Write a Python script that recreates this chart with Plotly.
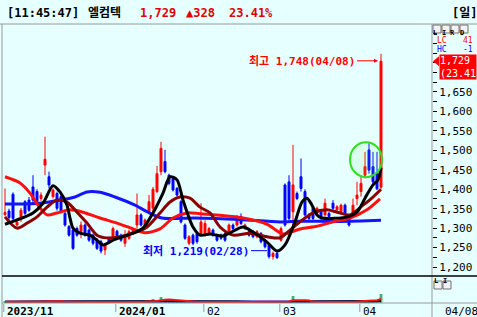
import numpy as np
import pandas as pd
import plotly.graph_objects as go

# ---------------- data ----------------
open_ = [1335, 1344, 1387, 1308, 1329, 1368, 1372, 1406, 1394, 1376,
         1462, 1432, 1381, 1389, 1381, 1338, 1304, 1295, 1299, 1291,
         1308, 1295, 1282, 1269, 1265, 1244, 1274, 1278, 1292, 1282,
         1261, 1274, 1285, 1308, 1334, 1308, 1342, 1351, 1394, 1445,
         1471, 1436, 1428, 1402, 1368, 1308, 1261, 1282, 1286, 1286,
         1282, 1286, 1295, 1282, 1282, 1286, 1291, 1308, 1308, 1330,
         1299, 1291, 1291, 1278, 1286, 1269, 1256, 1227, 1235, 1269,
         1411, 1419, 1342, 1389, 1432, 1394, 1334, 1351, 1338, 1342,
         1334, 1338, 1364, 1347, 1342, 1359, 1325, 1338, 1376, 1394,
         1436, 1501, 1458, 1440, 1405]
high = [1402, 1350, 1392, 1322, 1352, 1372, 1380, 1436, 1400, 1392,
        1535, 1445, 1402, 1394, 1385, 1342, 1308, 1299, 1304, 1317,
        1312, 1299, 1286, 1274, 1270, 1261, 1278, 1304, 1296, 1286,
        1295, 1296, 1300, 1389, 1338, 1325, 1385, 1406, 1460, 1522,
        1501, 1440, 1432, 1406, 1372, 1312, 1282, 1286, 1290, 1364,
        1320, 1303, 1299, 1286, 1286, 1290, 1312, 1312, 1334, 1338,
        1312, 1295, 1295, 1295, 1290, 1273, 1260, 1240, 1240, 1304,
        1415, 1436, 1514, 1394, 1479, 1400, 1338, 1355, 1355, 1346,
        1376, 1342, 1372, 1359, 1363, 1363, 1330, 1376, 1419, 1436,
        1496, 1518, 1496, 1496, 1748]
low = [1330, 1320, 1320, 1304, 1316, 1334, 1342, 1362, 1362, 1370,
       1436, 1402, 1376, 1345, 1338, 1304, 1278, 1244, 1278, 1274,
       1278, 1265, 1256, 1244, 1235, 1231, 1261, 1274, 1270, 1265,
       1252, 1270, 1282, 1299, 1304, 1304, 1338, 1334, 1390, 1436,
       1441, 1410, 1394, 1381, 1312, 1270, 1256, 1256, 1260, 1282,
       1278, 1282, 1278, 1265, 1270, 1265, 1287, 1295, 1304, 1308,
       1295, 1278, 1274, 1274, 1261, 1248, 1222, 1219, 1221, 1265,
       1304, 1320, 1308, 1372, 1394, 1330, 1321, 1321, 1334, 1321,
       1330, 1326, 1347, 1343, 1338, 1334, 1304, 1334, 1359, 1381,
       1428, 1440, 1411, 1398, 1401]
close = [1340, 1327, 1325, 1316, 1346, 1338, 1346, 1372, 1368, 1385,
         1477, 1411, 1398, 1351, 1342, 1308, 1282, 1248, 1282, 1308,
         1282, 1269, 1261, 1248, 1241, 1256, 1265, 1299, 1275, 1269,
         1282, 1291, 1295, 1334, 1308, 1321, 1368, 1400, 1440, 1505,
         1445, 1415, 1398, 1385, 1316, 1274, 1278, 1261, 1265, 1316,
         1312, 1299, 1282, 1269, 1274, 1269, 1308, 1299, 1321, 1312,
         1308, 1282, 1278, 1291, 1265, 1252, 1227, 1235, 1224, 1299,
         1308, 1325, 1411, 1376, 1402, 1334, 1325, 1325, 1351, 1325,
         1364, 1330, 1351, 1355, 1359, 1338, 1308, 1359, 1385, 1415,
         1458, 1449, 1419, 1401, 1729]
volume = [120, 110, 130, 100, 110, 110, 100, 140, 120, 200,
          250, 200, 180, 120, 110, 110, 100, 120, 100, 110,
          100, 100, 90, 100, 100, 90, 90, 110, 100, 90,
          100, 100, 90, 150, 110, 100, 150, 400, 250, 600,
          250, 200, 200, 180, 200, 120, 100, 100, 90, 150,
          120, 100, 90, 90, 90, 90, 110, 90, 100, 100,
          90, 90, 90, 90, 100, 100, 130, 110, 100, 150,
          200, 200, 700, 200, 150, 120, 100, 100, 100, 100,
          110, 90, 100, 90, 100, 100, 110, 120, 150, 300,
          300, 280, 300, 250, 900]

holidays = ["2023-12-25", "2023-12-29", "2024-01-01",
            "2024-02-09", "2024-02-12", "2024-03-01"]
first_day, last_day = "2023-11-20", "2024-04-08"

# moving-average lines (position in trading days, price)
ma_black_x = [0, 3, 7, 9.5, 12, 13.75, 15.5, 16.25, 17, 18.75, 21.25, 23, 24.5, 27,
              29.5, 32, 34.5, 37, 39.5, 41.25, 43, 44.5, 47, 48.75, 51.25, 54.5,
              59.5, 62, 65.5, 68, 70, 72.5, 74.25, 75.5, 76.75, 78, 79.25, 85.75,
              88, 90, 92, 93.25, 94]
ma_black_y = [1310, 1321, 1339, 1364, 1409, 1393, 1359, 1326, 1300, 1287, 1282, 1269,
              1257, 1269, 1278, 1287, 1300, 1339, 1390, 1432, 1424, 1372, 1303, 1282,
              1285, 1280, 1303, 1290, 1264, 1241, 1257, 1316, 1367, 1377, 1359, 1334,
              1326, 1329, 1341, 1377, 1411, 1424, 1455]
ma_brown_x = [0, 3, 5.5, 8, 10.5, 13, 15.5, 18, 20.5, 23, 25.5, 28.75, 32, 35.5, 38.75,
              41.25, 43.75, 46.25, 48.75, 51.25, 53.75, 57, 61.25, 65.5, 68.75, 71.25,
              73.75, 77, 80.5, 83, 86.25, 89.5, 92, 94]
ma_brown_y = [1329, 1300, 1313, 1329, 1354, 1372, 1367, 1341, 1313, 1282, 1275, 1278,
              1287, 1303, 1339, 1367, 1380, 1377, 1354, 1339, 1303, 1282, 1287, 1278,
              1275, 1295, 1316, 1339, 1347, 1341, 1334, 1359, 1380, 1400]
ma_red_x = [0, 3.75, 6.25, 8.75, 10.5, 13, 16.25, 19.5, 23.75, 28, 32, 35, 38.75, 42,
            45.5, 48.75, 53.75, 59.5, 65.5, 69.5, 73.75, 78, 82, 86.25, 90.5, 93.75]
ma_red_y = [1432, 1416, 1390, 1352, 1334, 1339, 1347, 1341, 1326, 1313, 1298, 1288,
            1298, 1326, 1339, 1337, 1333, 1326, 1310, 1285, 1298, 1305, 1316, 1326,
            1347, 1375]
ma_blue_x = [0, 8.75, 13.75, 17.5, 20.5, 23.75, 27.5, 32.5, 35.75, 39.25, 47.5, 58.75,
             68.75, 73.75, 83.75, 94]
ma_blue_y = [1362, 1364, 1372, 1380, 1393, 1392, 1380, 1359, 1341, 1326, 1326, 1322,
             1316, 1318, 1317, 1320]

price_ticks = [1200, 1250, 1300, 1350, 1400, 1450, 1500, 1550, 1600, 1650]

# ---------------- derived ----------------
dates = [d for d in pd.bdate_range(first_day, last_day)
         if d.strftime("%Y-%m-%d") not in holidays]
n = len(close)
idx = np.arange(n)

BG = "#E6FFFF"
GRAY = "#9A9A9A"
MONO = "DejaVu Sans Mono, Noto Sans CJK KR"
Y_RANGE = [1177, 1822]
DOM_MAIN = [0.0971, 1.0]
DOM_VOL = [0.0, 0.0971]


def px_x(p):  # pixel -> paper x
    return (p - 3) / 429.0


def px_y(p):  # pixel -> paper y
    return (303 - p) / 278.0


def price_paper(v):
    return DOM_MAIN[0] + (v - Y_RANGE[0]) / (Y_RANGE[1] - Y_RANGE[0]) * (DOM_MAIN[1] - DOM_MAIN[0])


fig = go.Figure()

fig.add_trace(go.Candlestick(
    x=idx, open=open_, high=high, low=low, close=close,
    increasing=dict(line=dict(color="#FF0000", width=1), fillcolor="#FF0000"),
    decreasing=dict(line=dict(color="#0000FF", width=1), fillcolor="#0000FF"),
    whiskerwidth=0, yaxis="y", hoverinfo="skip"))

for xs, ys, col in [(ma_blue_x, ma_blue_y, "#1414FF"),
                    (ma_red_x, ma_red_y, "#FF1010"),
                    (ma_brown_x, ma_brown_y, "#8B0000"),
                    (ma_black_x, ma_black_y, "#000000")]:
    fig.add_trace(go.Scatter(x=xs, y=ys, mode="lines",
                             line=dict(color=col, width=3, shape="spline", smoothing=0.8),
                             yaxis="y", hoverinfo="skip"))

# volume panel
fig.add_trace(go.Bar(x=idx, y=volume, marker_color="#3CB46E", marker_line_width=0,
                     width=0.7, yaxis="y2", hoverinfo="skip"))
vs = pd.Series(volume, dtype=float)
for win, col in [(60, "#1414FF"), (20, "#000000"), (5, "#FF1010")]:
    fig.add_trace(go.Scatter(x=idx, y=vs.rolling(win, min_periods=1).mean(), mode="lines",
                             line=dict(color=col, width=2), yaxis="y2", hoverinfo="skip"))

shapes = []
# frame lines
shapes.append(dict(type="line", xref="paper", yref="paper", x0=px_x(0), x1=px_x(477),
                   y0=px_y(24), y1=px_y(24), line=dict(color=GRAY, width=1)))
shapes.append(dict(type="line", xref="paper", yref="paper", x0=px_x(2), x1=px_x(2),
                   y0=px_y(24), y1=px_y(317), line=dict(color=GRAY, width=1)))
shapes.append(dict(type="line", xref="paper", yref="paper", x0=1.0, x1=1.0,
                   y0=px_y(24), y1=px_y(317), line=dict(color=GRAY, width=1)))
shapes.append(dict(type="line", xref="paper", yref="paper", x0=px_x(2), x1=px_x(477),
                   y0=DOM_VOL[1], y1=DOM_VOL[1], line=dict(color="#000000", width=1.5)))
shapes.append(dict(type="line", xref="paper", yref="paper", x0=px_x(2), x1=px_x(477),
                   y0=0, y1=0, line=dict(color=GRAY, width=1)))

# highlight circle around the last swing
shapes.append(dict(type="circle", xref="x", yref="y", x0=86.25, x1=94.25, y0=1431, y1=1521,
                   line=dict(color="#33DD22", width=2), fillcolor="rgba(120,255,120,0.12)"))

# price flag pointer
last_c = close[-1]
yp = price_paper(last_c)
shapes.append(dict(type="path", xref="paper", yref="paper",
                   path=f"M {px_x(433)},{yp} L {px_x(439)},{yp + 0.018} L {px_x(439)},{yp - 0.018} Z",
                   fillcolor="#FF0000", line=dict(width=0)))

annotations = []

# title bar
prev_c = close[-2]
chg = last_c - prev_c
pct = chg / prev_c * 100
ty = px_y(13)
for X, txt, col in [(5, "[11:45:47]", "#000000"), (86, "엘컴텍", "#000000"),
                    (138, f"{last_c:,}", "#E00000"), (184, f"▲{chg:,}", "#E00000"),
                    (227, f"{pct:.2f}%", "#E00000"), (450, "[일]", "#000000")]:
    annotations.append(dict(x=px_x(X), y=ty, xref="paper", yref="paper", xanchor="left",
                            yanchor="middle", text=f"<b>{txt}</b>", showarrow=False,
                            font=dict(family=MONO, size=12, color=col)))

# high / low labels
hi_i = int(np.argmax(high))
lo_i = int(np.argmin(low))
annotations.append(dict(x=hi_i, y=high[hi_i], xref="x", yref="y",
                        text=f"<b>최고 {high[hi_i]:,}({dates[hi_i].strftime('%m/%d')})</b>",
                        showarrow=True, arrowhead=2, arrowsize=0.8, arrowwidth=1,
                        arrowcolor="#FF0000", ax=-24, ay=0, xanchor="right", yshift=-7,
                        standoff=3, font=dict(family=MONO, size=11, color="#FF0000")))
annotations.append(dict(x=lo_i, y=low[lo_i], xref="x", yref="y",
                        text=f"<b>최저 {low[lo_i]:,}({dates[lo_i].strftime('%m/%d')})</b>",
                        showarrow=True, arrowhead=0, arrowwidth=1,
                        arrowcolor="#0000FF", ax=-22, ay=0, xanchor="right", yshift=9,
                        standoff=6, font=dict(family=MONO, size=11, color="#0000FF")))

# right-side indicator buttons (boxes as shapes, letters as text)
for X0, Y0, ch in [(433, 25, "L"), (442, 25, "I"), (451, 25, "R"), (460, 25, "D"),
                   (434, 281, "L"), (443, 281, "I")]:
    shapes.append(dict(type="rect", xref="paper", yref="paper", layer="above",
                       x0=px_x(X0), x1=px_x(X0 + 8), y0=px_y(Y0), y1=px_y(Y0 + 8),
                       fillcolor="#F2F2F2", line=dict(color="#707070", width=1)))
    annotations.append(dict(x=px_x(X0 + 4), y=px_y(Y0 + 3.5), xref="paper", yref="paper",
                            text=f"<b>{ch}</b>", showarrow=False, borderpad=0, borderwidth=0,
                            font=dict(family=MONO, size=7, color="#000")))
for yy, lab, val, col in [(40.5, "LC", "41", "#FF0000"), (49.5, "HC", "-1", "#0000FF")]:
    annotations.append(dict(x=px_x(437), y=px_y(yy), xref="paper", yref="paper",
                            xanchor="left", yanchor="middle", text=lab, showarrow=False,
                            borderpad=0, borderwidth=0, font=dict(family=MONO, size=8, color=col)))
    annotations.append(dict(x=px_x(473), y=px_y(yy), xref="paper", yref="paper",
                            xanchor="right", yanchor="middle", text=val, showarrow=False,
                            borderpad=0, borderwidth=0, font=dict(family=MONO, size=8, color=col)))
annotations.append(dict(x=px_x(439), y=yp, xref="paper", yref="paper", xanchor="left",
                        yanchor="top", yshift=7, align="left",
                        text=f"{last_c:,}<br>({pct:.2f}",
                        showarrow=False, bgcolor="#FF0000", borderpad=0,
                        font=dict(family=MONO, size=10, color="#FFFFFF")))

# date axis labels
prev_lab = None
for i, d in enumerate(dates):
    new_month = i == 0 or d.month != dates[i - 1].month
    if not new_month:
        continue
    if prev_lab is not None and i - prev_lab < 12:
        continue
    if i == 0 or d.year != dates[i - 1].year:
        txt = f"<b>{d.strftime('%Y/%m')}</b>"
    else:
        txt = d.strftime("%m")
    prev_lab = i
    annotations.append(dict(x=i, y=px_y(311), xref="x", yref="paper", xanchor="left",
                            yanchor="middle", xshift=0, text=txt, showarrow=False,
                            font=dict(family=MONO, size=11, color="#000000")))
    shapes.append(dict(type="line", xref="x", yref="paper", x0=i - 0.3, x1=i - 0.3,
                       y0=px_y(304), y1=px_y(312), line=dict(color=GRAY, width=1)))
annotations.append(dict(x=px_x(443), y=px_y(311), xref="paper", yref="paper", xanchor="left",
                        yanchor="middle", text=dates[-1].strftime("%m/%d"), showarrow=False,
                        font=dict(family=MONO, size=11, color="#000000")))

fig.update_layout(
    width=477, height=317,
    margin=dict(l=3, r=45, t=25, b=14, pad=0),
    paper_bgcolor=BG, plot_bgcolor=BG,
    showlegend=False,
    xaxis=dict(range=[-0.5, 106.75], showticklabels=False, showgrid=False, zeroline=False,
               showline=False, ticks="", rangeslider=dict(visible=False), fixedrange=True),
    yaxis=dict(domain=DOM_MAIN, range=Y_RANGE, side="right", tickvals=price_ticks,
               tickformat=",d", ticks="outside", ticklen=4, tickcolor="#000000",
               showgrid=False, zeroline=False, showline=False,
               tickfont=dict(family=MONO, size=11, color="#000000"),
               minor=dict(tickvals=list(range(1200, 1825, 25)), ticks="outside",
                          ticklen=4, tickcolor="#000000")),
    yaxis2=dict(domain=DOM_VOL, range=[0, 2700], showticklabels=False, showgrid=False,
                zeroline=False, showline=False, anchor="x"),
    shapes=shapes, annotations=annotations,
    bargap=0.3,
)

fig.write_html("out.html")
